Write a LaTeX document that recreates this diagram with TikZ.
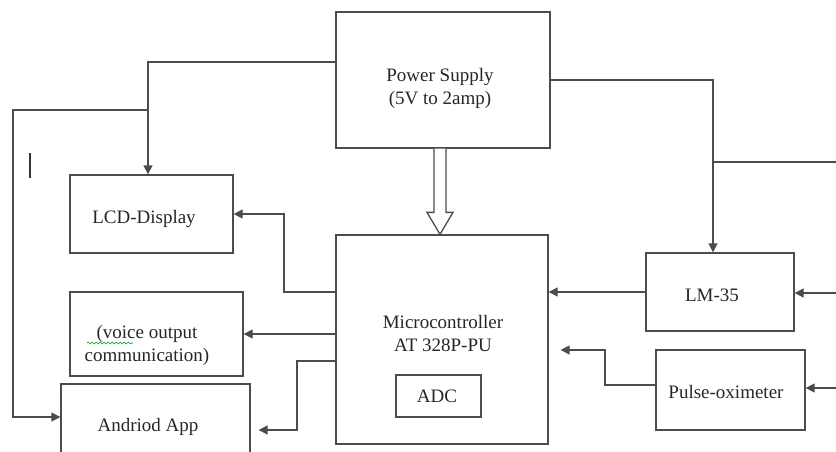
\documentclass[tikz,border=0pt]{standalone}
\usepackage{fontspec}
\setmainfont{Liberation Serif}
\newfontfamily\boxfont{Liberation Serif}
\usetikzlibrary{positioning,arrows.meta,calc,decorations.pathmorphing}

\begin{document}
\begin{tikzpicture}[
  x=1pt, y=-1pt,
  every node/.style={font=\boxfont\fontsize{19}{23}\selectfont, text=black!85},
  blk/.style ={draw=black!70, line width=1.3pt, inner sep=0pt},
  lbl/.style ={align=center, inner sep=0pt},
  arr/.style ={-{Triangle[length=9pt,width=9pt]}, draw=black!70, line width=1.3pt},
  wire/.style={draw=black!70, line width=1.3pt},
  hollow/.style={draw=black!70, line width=1.3pt, fill=white, line join=miter}
]
\clip (0,0) rectangle (836,452);

\node[blk, minimum width=214, minimum height=136] (ps)    at (443,80)    {};
\node[blk, minimum width=163, minimum height=78]  (lcd)   at (151.5,214) {};
\node[blk, minimum width=212, minimum height=209] (mc)    at (442,339.5) {};
\node[blk, minimum width=85,  minimum height=42]  (adc)   at (438.5,396) {};
\node[blk, minimum width=173, minimum height=84]  (voice) at (156.5,334) {};
\node[blk, minimum width=189, minimum height=86]  (andr)  at (155.5,427) {};
\node[blk, minimum width=148, minimum height=78]  (lm)    at (720,292)   {};
\node[blk, minimum width=149, minimum height=80]  (po)    at (730.5,390) {};

\node[lbl] (pstxt)    at (440,88)  {Power Supply\\(5V to 2amp)};
\node[lbl] (lcdtxt)   at (144,219) {LCD-Display};
\node[lbl] (mctxt)    at (443,333) {Microcontroller\\AT 328P-PU};
\node[lbl] (adctxt)   at (437,396) {ADC};
\node[lbl] (voicetxt) at (147,345) {(voice output\\communication)};
\node[lbl] (andrtxt)  at (148,427) {Andriod App};
\node[lbl] (lmtxt)    at (712,295) {LM-35};
\node[lbl] (potxt)    at (726,392) {Pulse-oximeter};

\coordinate (f) at (440,0);
\draw[hollow] ($(f |- ps.south)+(-6,0)$) -- ($(f |- mc.north)+(-6,-22)$)
  -- ($(f |- mc.north)+(-13,-22)$) -- (f |- mc.north)
  -- ($(f |- mc.north)+(13,-22)$) -- ($(f |- mc.north)+(6,-22)$)
  -- ($(f |- ps.south)+(6,0)$);

\coordinate (j1) at (148,62);
\coordinate (j2) at (148,110);
\coordinate (j3) at (13,110);
\coordinate (j4) at (13,417);
\coordinate (k1) at (284,292);
\coordinate (k2) at (297,361);
\coordinate (k3) at (297,430);
\coordinate (m1) at (713,80);
\coordinate (m2) at (713,162);
\coordinate (e1) at (836,162);
\coordinate (e2) at (836,293);
\coordinate (e3) at (836,388);
\coordinate (p1) at (605,385);
\coordinate (p2) at (605,350);

\draw[arr] (ps.west |- j1) -- (j1) -- (j1 |- lcd.north);
\draw[arr] (j2) -- (j3) -- (j4) -- (j4 -| andr.west);
\draw[arr] (mc.west |- k1) -- (k1) |- (lcd.east);
\draw[arr] (mc.west |- voice.east) -- (voice.east);
\draw[arr, shorten >=8pt] (mc.west |- k2) -- (k2) -- (k3) -- (k3 -| andr.east);
\draw[arr] (ps.east |- m1) -- (m1) -- (m1 |- lm.north);
\draw[wire] (m2) -- (e1);
\draw[arr] (e2) -- (e2 -| lm.east);
\draw[arr] (e3) -- (e3 -| po.east);
\draw[arr] (lm.west) -- (lm.west -| mc.east);
\draw[arr, shorten >=12pt] (po.west |- p1) -- (p1) -- (p2) -- (p2 -| mc.east);

\draw[line width=1.6pt, black!80] (30,153) -- (30,178);
\draw[green!60!black, line width=0.6pt,
      decorate, decoration={snake, amplitude=1pt, segment length=4pt}]
     (87,343) -- (133,343);

\end{tikzpicture}
\end{document}
